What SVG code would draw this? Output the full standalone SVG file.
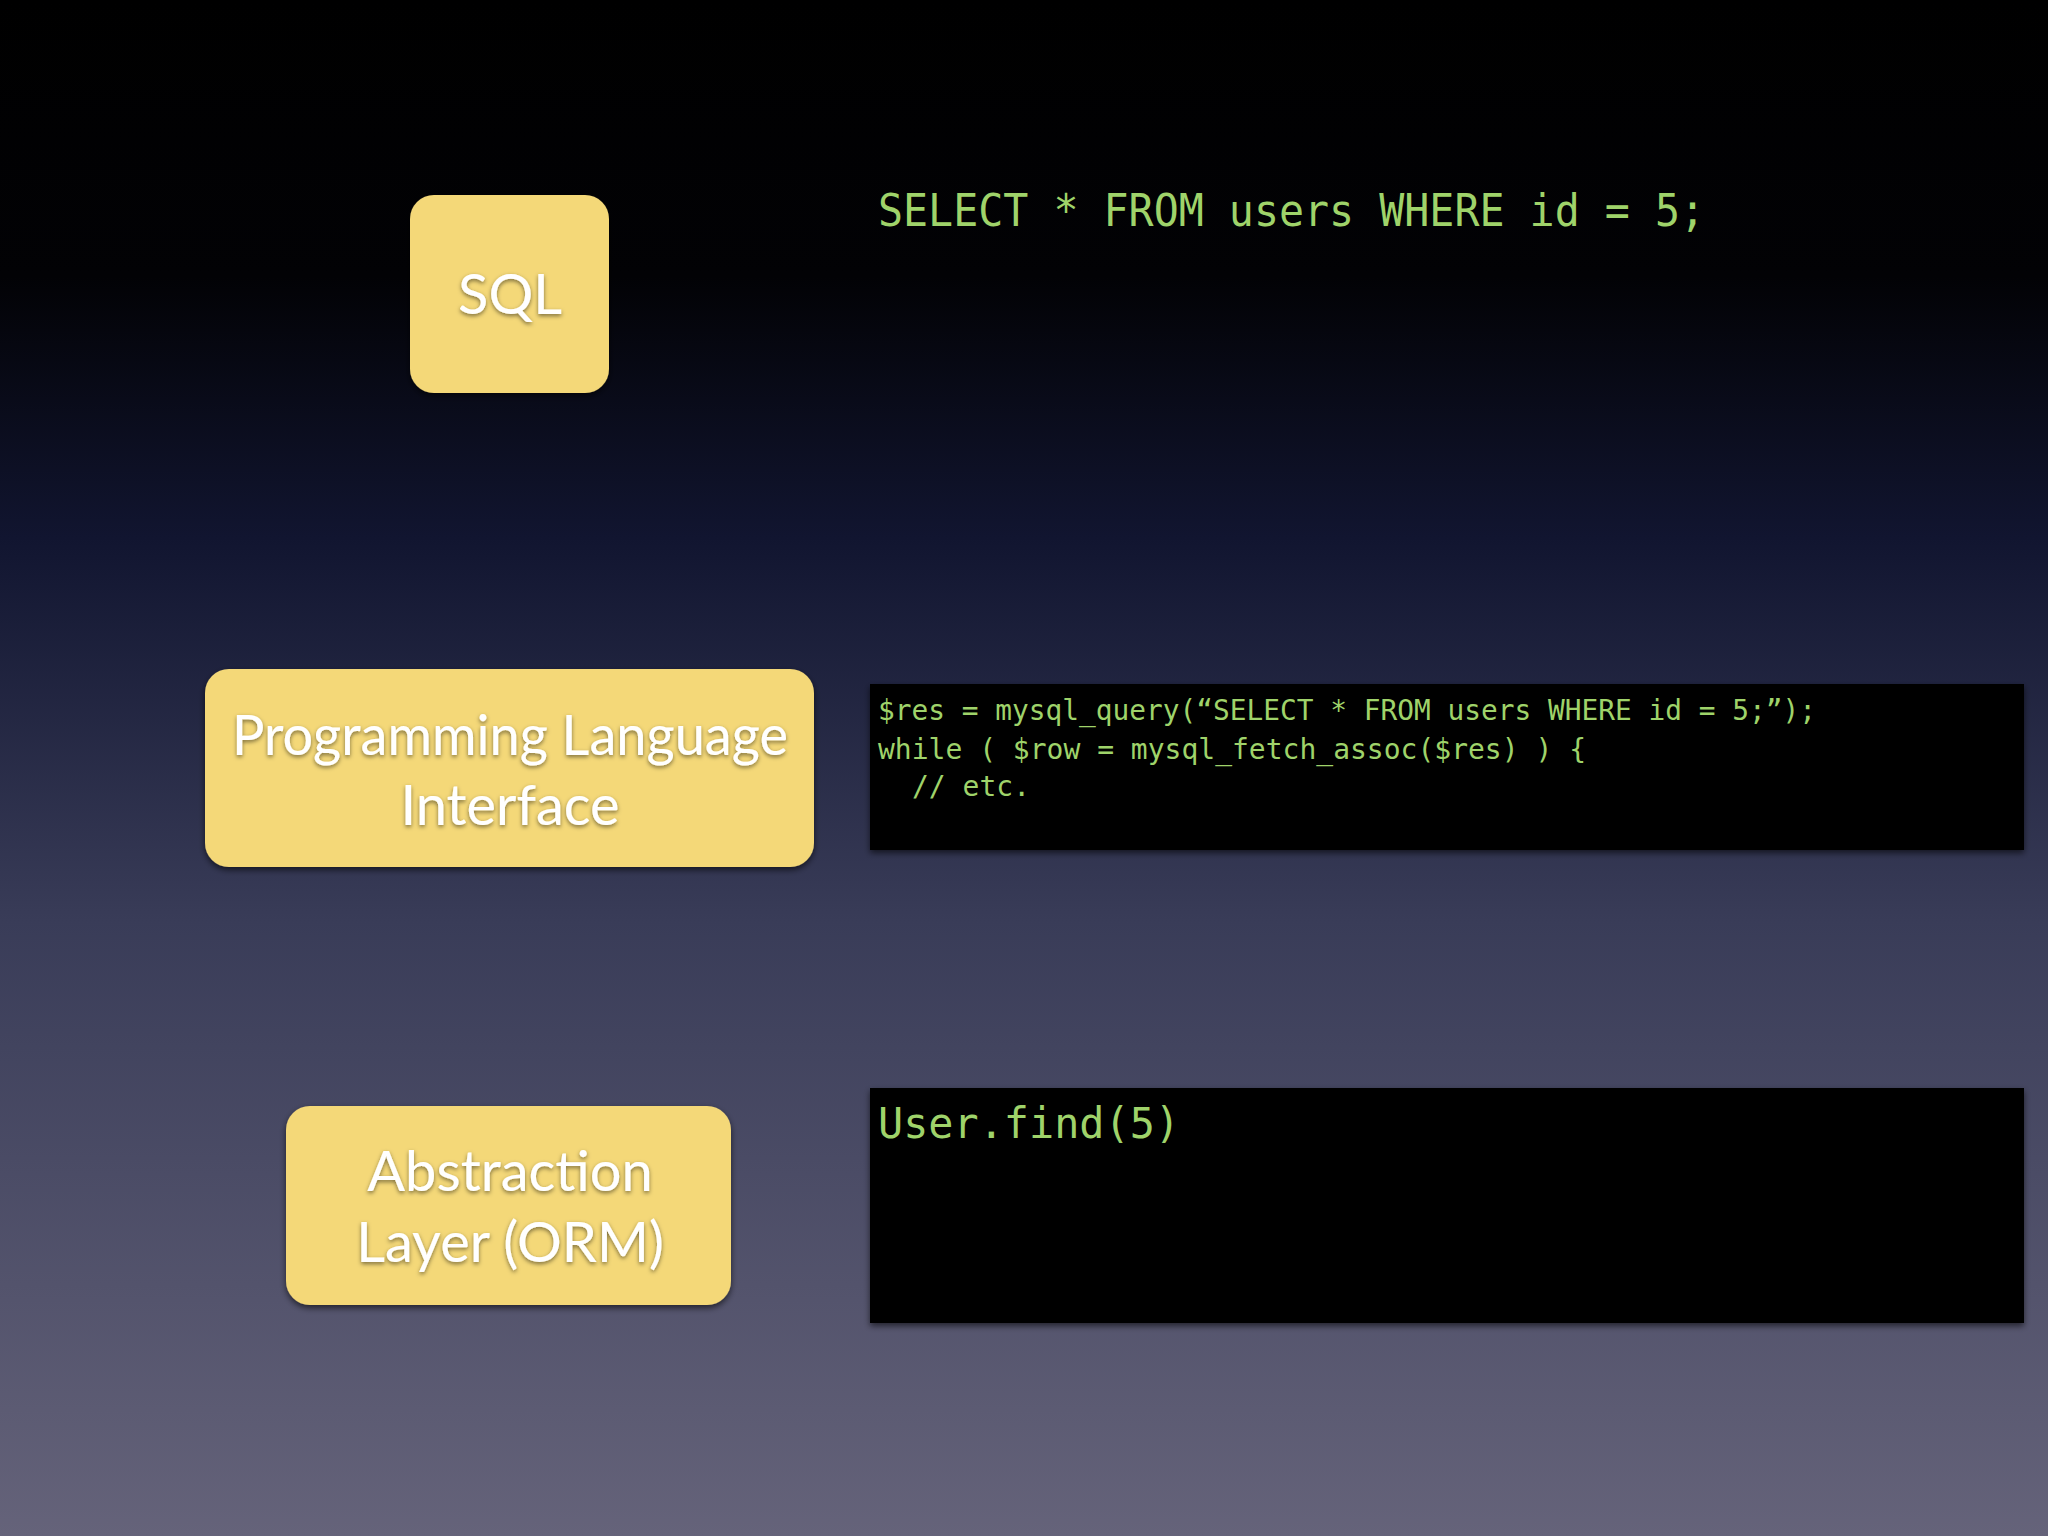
<svg xmlns="http://www.w3.org/2000/svg" width="2048" height="1536" viewBox="0 0 2048 1536">
<defs>
<linearGradient id="bg" x1="0" y1="0" x2="0" y2="1">
<stop offset="0" stop-color="#000000"/>
<stop offset="0.18" stop-color="#020205"/>
<stop offset="0.35" stop-color="#111530"/>
<stop offset="0.6" stop-color="#393c58"/>
<stop offset="1" stop-color="#65637a"/>
</linearGradient>
<filter id="sh" x="-10%" y="-10%" width="120%" height="130%">
<feDropShadow dx="0" dy="3" stdDeviation="3" flood-color="#000" flood-opacity="0.6"/>
</filter>
<filter id="tsh"><feDropShadow dx="0" dy="2" stdDeviation="2" flood-color="#000" flood-opacity="0.5"/></filter>
</defs>
<style>
.box{fill:#f4d878;filter:url(#sh)}
.lbl{font-family:Lato,"Open Sans",sans-serif;font-size:56px;fill:#fff;text-anchor:middle;filter:url(#tsh)}
.code{font-family:"DejaVu Sans Mono","Liberation Mono",monospace;fill:#9fd36a}
.panel{fill:#000;filter:url(#sh)}
</style>
<rect width="2048" height="1536" fill="url(#bg)"/>
<g id="sql">
<rect class="box" x="410" y="195" width="199" height="198" rx="24"/>
<text class="lbl" x="510" y="314">SQL</text>
</g>
<g id="pli">
<rect class="box" x="205" y="669" width="609" height="198" rx="24"/>
<text class="lbl" x="510" y="755" textLength="556" lengthAdjust="spacingAndGlyphs">Programming Language</text>
<text class="lbl" x="510" y="825">Interface</text>
</g>
<g id="orm">
<rect class="box" x="286" y="1106" width="445" height="199" rx="24"/>
<text class="lbl" x="510" y="1191">Abstraction</text>
<text class="lbl" x="510" y="1262">Layer (ORM)</text>
</g>
<g id="code-sql">
<text class="code" x="878" y="226" font-size="45" textLength="827" lengthAdjust="spacingAndGlyphs">SELECT * FROM users WHERE id = 5;</text>
</g>
<g id="code-php">
<rect class="panel" x="870" y="684" width="1154" height="166"/>
<text class="code" x="878" y="720" font-size="28" textLength="938" lengthAdjust="spacingAndGlyphs">$res = mysql_query(“SELECT * FROM users WHERE id = 5;”);</text>
<text class="code" x="878" y="759" font-size="28">while ( $row = mysql_fetch_assoc($res) ) {</text>
<text class="code" x="912" y="796" font-size="28">// etc.</text>
</g>
<g id="code-orm">
<rect class="panel" x="870" y="1088" width="1154" height="235"/>
<text class="code" x="878" y="1138" font-size="42" textLength="302" lengthAdjust="spacingAndGlyphs">User.find(5)</text>
</g>
<g id="connectors"/>
</svg>
